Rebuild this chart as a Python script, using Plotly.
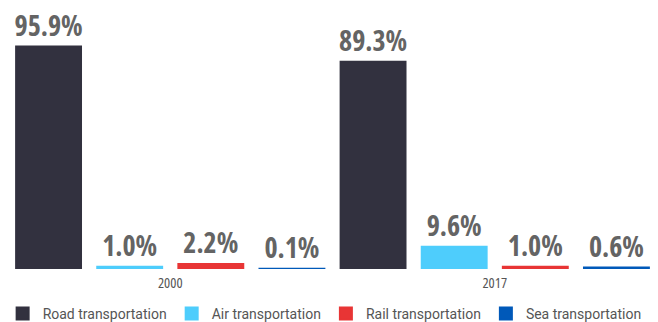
import plotly.graph_objects as go

# Share of transport modes, by year
years = ["2000", "2017"]
modes = ["Road transportation", "Air transportation", "Rail transportation", "Sea transportation"]
shares = {
    "Road transportation": [95.9, 89.3],
    "Air transportation": [1.0, 9.6],
    "Rail transportation": [2.2, 1.0],
    "Sea transportation": [0.1, 0.6],
}
colors = {
    "Road transportation": "#32313f",
    "Air transportation": "#4ecdfc",
    "Rail transportation": "#e83535",
    "Sea transportation": "#0059b9",
}

# condensed face of Open Sans (variable width axis)
COND = "<span style='font-stretch:75%;font-weight:700'>{}</span>"

fig = go.Figure()
for mode in modes:
    vals = shares[mode]
    fig.add_trace(go.Bar(
        name=mode,
        x=years,
        y=vals,
        text=[COND.format(f"{v:.1f}%") for v in vals],
        textposition="outside",
        constraintext="none",
        cliponaxis=False,
        textfont=dict(family="Open Sans", size=28, color="#646464", weight="bold"),
        marker=dict(color=colors[mode], line=dict(color=colors[mode], width=2)),
        hoverinfo="skip",
    ))

fig.update_layout(
    width=658,
    height=322,
    margin=dict(l=8, r=1, t=37, b=53),
    paper_bgcolor="white",
    plot_bgcolor="white",
    barmode="group",
    bargap=0,
    bargroupgap=0.2,
    showlegend=True,
    legend=dict(
        orientation="h",
        xref="container", yref="container",
        x=0.004, y=0.025, xanchor="left", yanchor="middle",
        font=dict(family="Roboto", size=14, color="#555555"),
        itemclick=False, itemdoubleclick=False,
        traceorder="normal",
    ),
    xaxis=dict(
        showgrid=False, zeroline=False, showline=False, ticks="",
        tickmode="array", tickvals=years,
        ticktext=["<span style='font-stretch:75%'>{}</span>".format(y) for y in years],
        tickfont=dict(family="Open Sans", size=14.5, color="#555555"),
        ticklabelstandoff=3,
    ),
    yaxis=dict(
        range=[0, 100], showgrid=False, zeroline=False, showline=False,
        showticklabels=False, ticks="",
    ),
)

fig.write_html("out.html")
